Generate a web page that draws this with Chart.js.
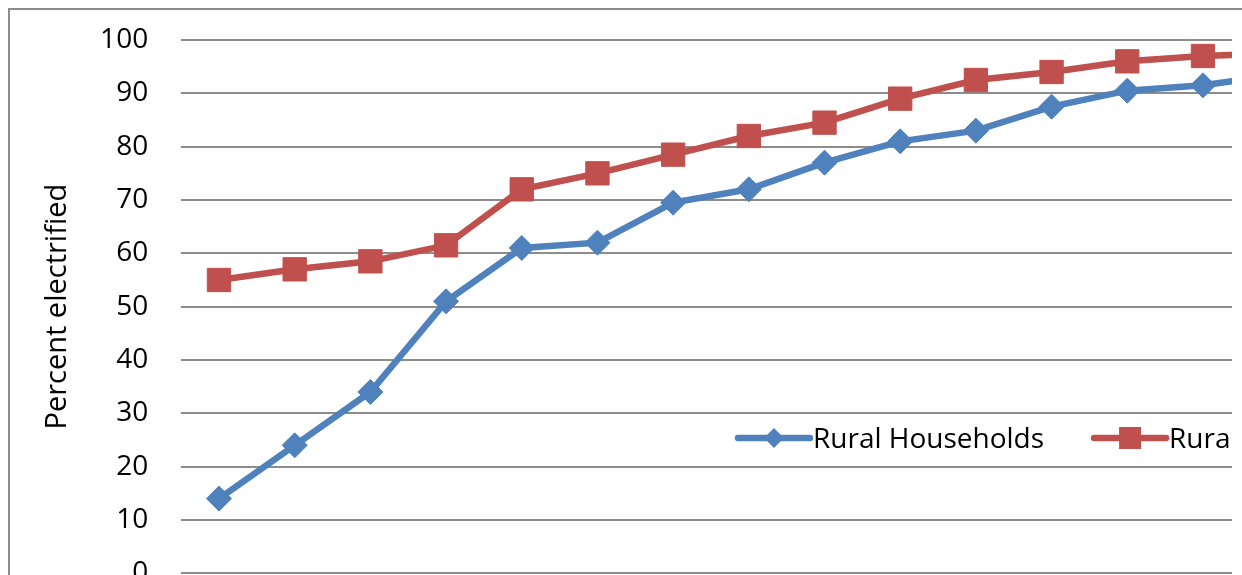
<!DOCTYPE html>
<html>
<head>
<meta charset="utf-8">
<script src="https://cdn.jsdelivr.net/npm/chart.js@4/dist/chart.umd.min.js"></script>
<style>
    html, body { margin: 0; padding: 0; background: #fff; overflow: hidden; }
    #frame {
        position: absolute; left: 8px; top: 8px; width: 1400px; height: 700px;
        border-left: 2px solid #8c8c8c; border-top: 2px solid #8c8c8c;
    }
    #wrap { position: absolute; left: 0; top: 0; width: 1232px; height: 575px; overflow: hidden; }
    #box { position: relative; width: 1400px; height: 640px; }
</style>
</head>
<body>
<div id="frame"></div>
<div id="wrap"><div id="box"><canvas id="electrifiedChart"></canvas></div></div>
<script>
// values (x labels are cut off in the reference)
const categories = ['1', '2', '3', '4', '5', '6', '7', '8', '9', '10', '11', '12', '13', '14', '15'];
const ruralHouseholds = [14, 24, 34, 51, 61, 62, 69.5, 72, 77, 81, 83, 87.5, 90.5, 91.5, 93.5];
const ruralVillages = [55, 57, 58.5, 61.5, 72, 75, 78.5, 82, 84.5, 89, 92.5, 94, 96, 97, 97.5];
const yTickValues = [0, 10, 20, 30, 40, 50, 60, 70, 80, 90, 100];
const seriesNames = ['Rural Households', 'Rural Villages'];

const FONT = { family: 'Open Sans', size: 28 };
const BLUE = '#4F81BD';
const RED = '#C0504D';

// Excel-style legend sitting inside the plot area
const insideLegend = {
    id: 'insideLegend',
    afterDraw(chart, args, opts) {
        const ctx = chart.ctx;
        let x = opts.x;
        const y = opts.y;
        ctx.save();
        ctx.font = `${FONT.size}px "${FONT.family}"`;
        ctx.textBaseline = 'alphabetic';
        ctx.textAlign = 'left';
        chart.data.datasets.forEach(ds => {
            const mid = x + opts.lineLength / 2;
            ctx.strokeStyle = ds.borderColor;
            ctx.lineWidth = ds.borderWidth;
            ctx.lineCap = 'round';
            ctx.beginPath();
            ctx.moveTo(x, y);
            ctx.lineTo(x + opts.lineLength, y);
            ctx.stroke();

            ctx.fillStyle = ds.borderColor;
            ctx.beginPath();
            if (ds.pointStyle === 'rectRot') {
                const r = 10;
                ctx.moveTo(mid, y - r);
                ctx.lineTo(mid + r, y);
                ctx.lineTo(mid, y + r);
                ctx.lineTo(mid - r, y);
                ctx.closePath();
            } else {
                const s = 11;
                ctx.rect(mid - s, y - s, 2 * s, 2 * s);
            }
            ctx.fill();

            const tx = x + opts.lineLength + 3;
            ctx.fillStyle = '#000';
            ctx.fillText(ds.label, tx, y + 10);
            x = tx + ctx.measureText(ds.label).width + opts.gap;
        });
        ctx.restore();
    }
};

document.fonts.load('28px "Open Sans"').finally(() => {
    const ctx = document.getElementById('electrifiedChart').getContext('2d');
    new Chart(ctx, {
        type: 'line',
        data: {
            labels: categories,
            datasets: [{
                label: seriesNames[0],
                data: ruralHouseholds,
                borderColor: BLUE,
                backgroundColor: BLUE,
                borderWidth: 6.5,
                pointStyle: 'rectRot',
                pointRadius: 12.5,
                pointBorderWidth: 1,
                pointBackgroundColor: BLUE,
                pointBorderColor: BLUE,
                tension: 0
            }, {
                label: seriesNames[1],
                data: ruralVillages,
                borderColor: RED,
                backgroundColor: RED,
                borderWidth: 6.5,
                pointStyle: 'rect',
                pointRadius: 16.5,
                pointBorderWidth: 1,
                pointBackgroundColor: RED,
                pointBorderColor: RED,
                tension: 0
            }]
        },
        options: {
            responsive: true,
            maintainAspectRatio: false,
            devicePixelRatio: 1,
            animation: false,
            layout: { padding: { top: 40, left: 0, right: 83.5, bottom: 66.7 } },
            plugins: {
                legend: { display: false },
                tooltip: { enabled: false },
                insideLegend: { x: 738, y: 438, lineLength: 72, gap: 50 }
            },
            scales: {
                x: {
                    offset: true,
                    grid: { display: false },
                    border: { display: false },
                    ticks: { display: false },
                    afterFit: (scale) => { scale.height = 0; }
                },
                y: {
                    min: 0,
                    max: 100,
                    afterBuildTicks: (scale) => { scale.ticks = yTickValues.map(v => ({ value: v })); },
                    afterFit: (scale) => {
                        scale.width = 181.15;
                        scale.paddingTop = 0;
                        scale.paddingBottom = 0;
                    },
                    border: { display: false },
                    grid: { color: '#8c8c8c', lineWidth: 2, drawTicks: false },
                    ticks: { font: FONT, color: '#000', padding: 33 },
                    title: {
                        display: true,
                        text: 'Percent electrified',
                        font: { family: 'Open Sans', size: 29 },
                        color: '#000',
                        padding: { top: 40, bottom: 0 }
                    }
                }
            }
        },
        plugins: [insideLegend]
    });
});
</script>
</body>
</html>
